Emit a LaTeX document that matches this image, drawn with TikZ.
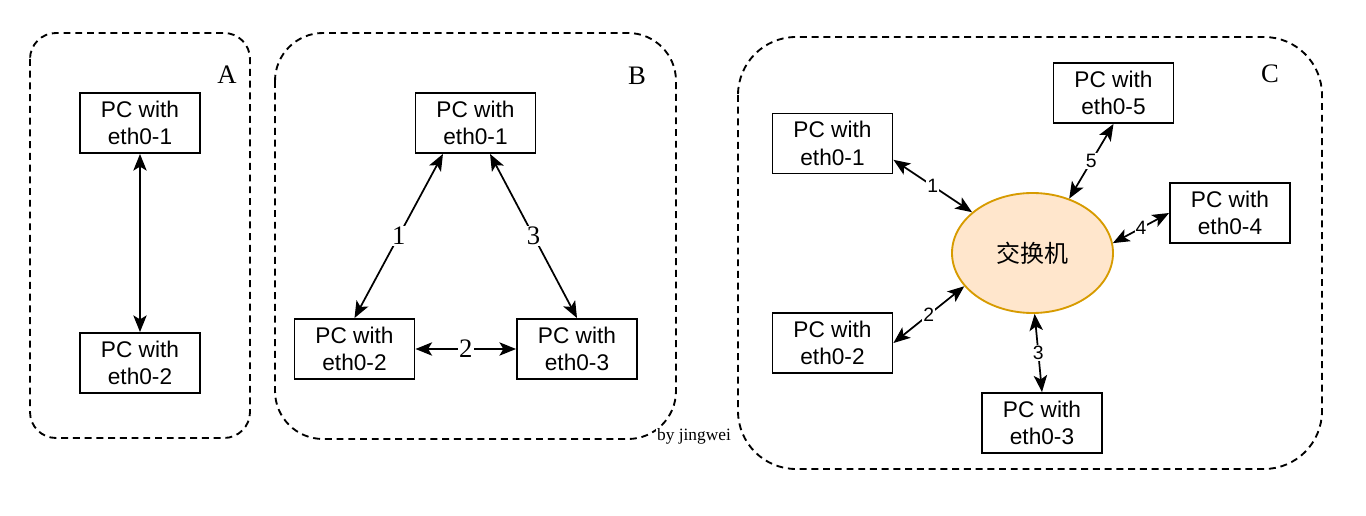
\documentclass[tikz,border=0pt]{standalone}
\usepackage{fontspec}
\setmainfont{Liberation Sans}
\newfontfamily\serifface{Liberation Serif}
\newfontfamily\cjkface{Noto Sans CJK SC}
\usetikzlibrary{arrows.meta,shapes.geometric}
\definecolor{swfill}{HTML}{FFE6CC}
\definecolor{swdraw}{HTML}{D79B00}
\begin{document}
\begin{tikzpicture}[x=0.75pt,y=-0.75pt,
  pc/.style={draw, line width=1.4pt, minimum width=90pt, minimum height=45pt,
    align=center, inner sep=0pt, font=\fontsize{17}{20.8}\selectfont},
  panel/.style={draw, line width=1.4pt, dash pattern=on 5.2pt off 3.6pt},
  link/.style={line width=1.3pt,
    {Stealth[length=12.5pt,width=10pt,inset=3pt]}-{Stealth[length=12.5pt,width=10pt,inset=3pt]}},
  plab/.style={inner sep=0pt, font=\serifface\fontsize{20}{22}\selectfont},
  blab/.style={fill=white, inner sep=1pt, font=\serifface\fontsize{20}{22}\selectfont},
  clab/.style={fill=white, inner sep=0.8pt, font=\fontsize{14.5}{16}\selectfont},
  switchnode/.style={ellipse, draw=swdraw, fill=swfill, line width=1.4pt,
    minimum width=120.75pt, minimum height=90pt, inner sep=0pt,
    font=\cjkface\fontsize{18}{20}\selectfont}
]
\useasboundingbox (0,0) rectangle (1366,516);

% panels
\draw[panel, rounded corners=19.5pt] (30,33) rectangle (250,438);
\draw[panel, rounded corners=36pt] (275,33) rectangle (676,439);
\draw[panel, rounded corners=43.5pt] (738,37) rectangle (1322,469);

\node[plab] (labA) at (227,75) {A};
\node[plab] (labB) at (637,76) {B};
\node[plab] (labC) at (1270,74) {C};

% panel A
\node[pc] (a1) at (140,123) {PC with\\eth0-1};
\node[pc] (a2) at (140,363) {PC with\\eth0-2};
\draw[link] (a1.south) -- (a2.north);

% panel B
\node[pc] (b1) at (475.5,123) {PC with\\eth0-1};
\node[pc] (b2) at (354.5,349) {PC with\\eth0-2};
\node[pc] (b3) at (577,349) {PC with\\eth0-3};
\draw[link] ([xshift=-24.4pt]b1.south) -- (b2.north) node[blab, midway] {1};
\draw[link] ([xshift=10.9pt]b1.south) -- (b3.north) node[blab, midway] {3};
\draw[link] (b2.east) -- (b3.west) node[blab, midway] {2};

% panel C
\node[switchnode] (sw) at (1032.5,253) {交换机};
\node[pc] (c1) at (832.5,143.5) {PC with\\eth0-1};
\node[pc] (c5) at (1113.5,93) {PC with\\eth0-5};
\node[pc] (c4) at (1230,213) {PC with\\eth0-4};
\node[pc] (c2) at (832.5,343) {PC with\\eth0-2};
\node[pc] (c3) at (1042,423) {PC with\\eth0-3};
\draw[link] (c1.-15) -- (sw.146) node[clab, midway] {1};
\draw[link] (c5.south) -- (sw.56) node[clab, midway] {5};
\draw[link] (c4.west) -- (sw.7) node[clab, midway] {4};
\draw[link] (c2.east) -- (sw.206) node[clab, midway] {2};
\draw[link] (sw.272) -- (c3.north) node[clab, midway] {3};

\node[fill=white, inner sep=1pt, anchor=base, font=\serifface\fontsize{13}{15}\selectfont] (sig) at (694,440) {by jingwei};
\end{tikzpicture}
\end{document}
